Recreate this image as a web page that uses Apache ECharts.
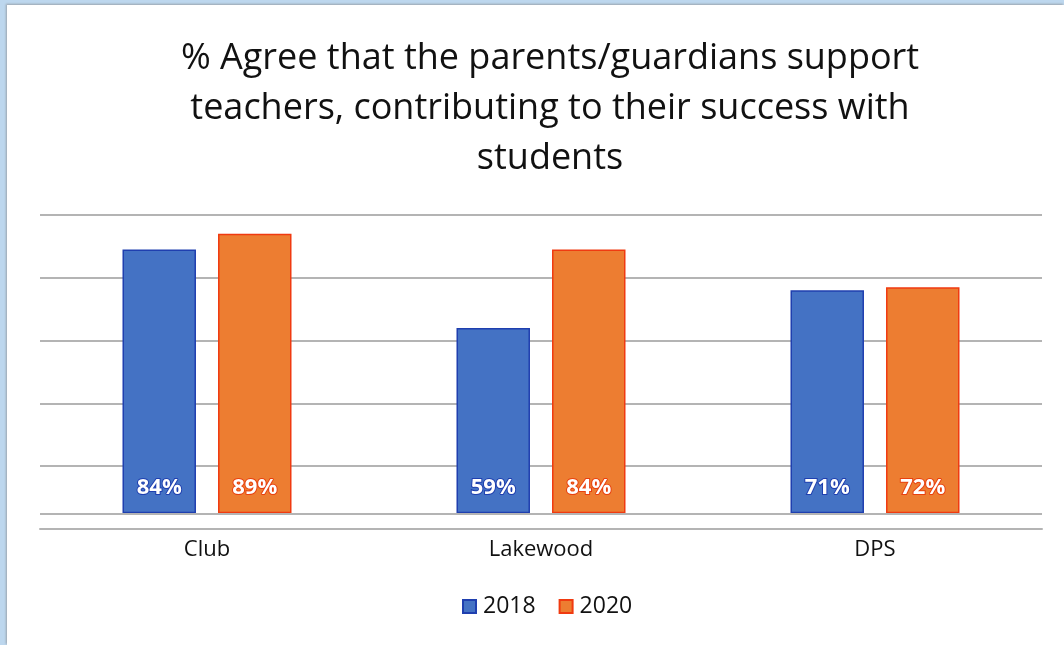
<!DOCTYPE html>
<html><head><meta charset="utf-8">
<script src="https://cdn.jsdelivr.net/npm/echarts@6/dist/echarts.min.js"></script>
<style>
html,body{margin:0;padding:0;width:1064px;height:645px;overflow:hidden;background:#BDD7EE;}
#frame{position:absolute;left:7px;top:5px;width:1057px;height:640px;background:#fff;box-shadow:-1px -1px 2px #9aa4ad;}
#c{position:absolute;left:-7px;top:-5px;width:1064px;height:645px;}
</style></head>
<body><div id="frame"><div id="c"></div></div>
<script>
const categories = ['Club', 'Lakewood', 'DPS'];
const seriesNames = ['2018', '2020'];
const values2018 = [84, 59, 71];
const values2020 = [89, 84, 72];
const titleText = '% Agree that the parents/guardians support\nteachers, contributing to their success with\nstudents';

const chart = echarts.init(document.getElementById('c'), null, {renderer:'canvas'});
const font = '"Open Sans", Lato, sans-serif';
function labelCfg(border){
  return {show:true, position:'insideBottom', distance:15, formatter:'{c}%', color:'#fff',
    fontFamily:font, fontWeight:'bold', fontSize:22, textBorderColor:border, textBorderWidth:2};
}
chart.setOption({
  backgroundColor:'transparent',
  animation:false,
  title:{text:titleText, left:545, top:29, textAlign:'center',
    textStyle:{fontFamily:font, fontSize:36, fontWeight:'normal', color:'#111', lineHeight:50}},
  legend:{bottom:22, left:457, itemWidth:13, itemHeight:13, itemGap:23,
    textStyle:{fontFamily:font, fontSize:23, color:'#111', padding:[0,0,0,2]}, icon:'rect',
    data:seriesNames},
  grid:{left:40, right:22, top:215, bottom:116, containLabel:false},
  xAxis:{type:'category', data:categories,
    axisLine:{onZero:false, lineStyle:{color:'#b4b4b4', width:2}},
    axisTick:{show:false},
    axisLabel:{fontFamily:font, fontSize:22, color:'#111', margin:10}},
  yAxis:{type:'value', min:-5, max:95, interval:20,
    axisLabel:{show:false}, axisLine:{show:false}, axisTick:{show:false},
    splitLine:{lineStyle:{color:'#b4b4b4', width:2}}},
  series:[
    {name:seriesNames[0], type:'bar', data:values2018, barWidth:'22%', barGap:'30%',
     itemStyle:{color:'#4472C4', borderColor:'#1F3FAF', borderWidth:1.5},
     label:labelCfg('#1F3FAF'),
     markLine:{silent:true, symbol:'none', label:{show:false},
       lineStyle:{color:'#b4b4b4', width:2, type:'solid'}, data:[{yAxis:0}]},
     z:3},
    {name:seriesNames[1], type:'bar', data:values2020, barWidth:'22%', barGap:'30%',
     itemStyle:{color:'#ED7D31', borderColor:'#F03A10', borderWidth:1.5},
     label:labelCfg('#E8400F'), z:3}
  ]
});
</script></body></html>
